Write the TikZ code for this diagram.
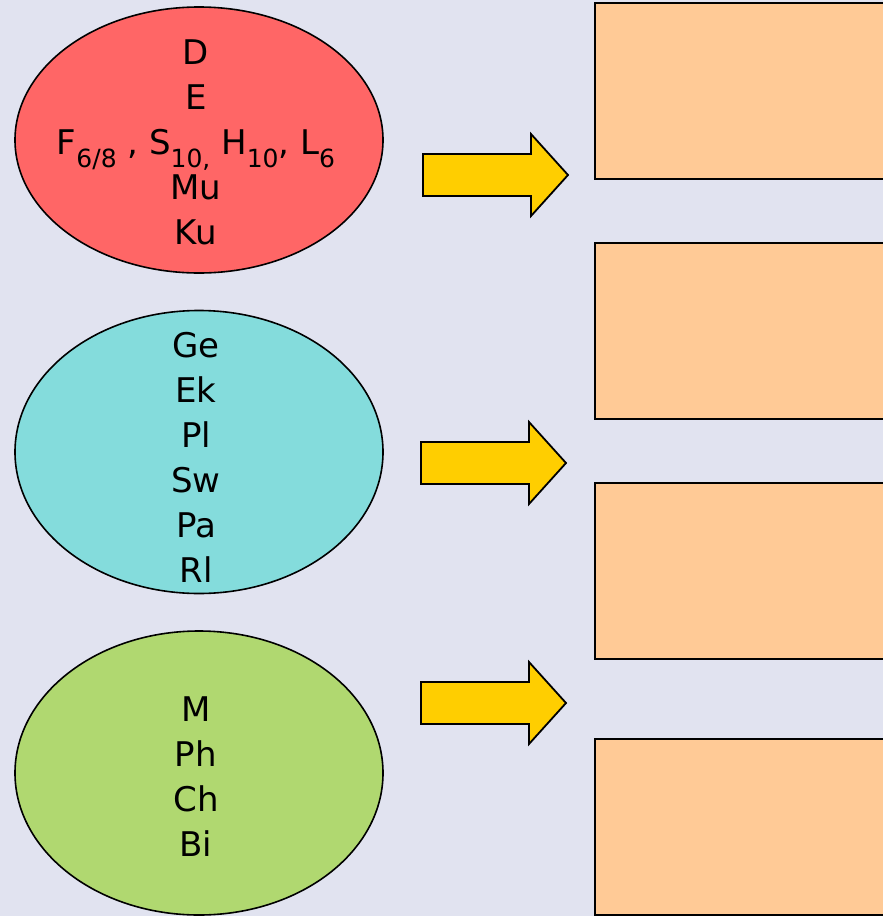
\documentclass[tikz,border=0pt]{standalone}
\usepackage{fontspec}
\setmainfont{DejaVu Sans}
\usetikzlibrary{shapes.geometric}

\definecolor{bgcol}{RGB}{225,227,240}
\definecolor{redfill}{RGB}{255,102,102}
\definecolor{cyanfill}{RGB}{132,220,220}
\definecolor{greenfill}{RGB}{176,216,112}
\definecolor{boxfill}{RGB}{255,202,150}
\definecolor{arrowfill}{RGB}{255,206,0}

\newcommand{\lowsub}[1]{\raisebox{-0.38em}{\fontsize{25}{25}\selectfont #1}}

\tikzset{
  oval/.style={ellipse, draw=black, line width=1.6pt, inner sep=0pt,
               minimum width=368pt},
  ovaltext/.style={align=center, inner sep=0pt,
                   font=\fontsize{34}{45}\selectfont},
  emptybox/.style={rectangle, draw=black, line width=2.2pt, fill=boxfill,
                   minimum width=320pt, minimum height=176pt, inner sep=0pt},
  fatarrow/.style={draw=black, line width=1.8pt, fill=arrowfill, line join=miter}
}

\begin{document}
\begin{tikzpicture}[x=1pt, y=-1pt]
  \fill[bgcol] (0,0) rectangle (883,916);
  \useasboundingbox (0,0) rectangle (883,916);

  % three groups on the left
  \node[oval, fill=redfill, minimum height=266pt] (e1) at (199,140) {};
  \node[ovaltext] (t1) at (196,142)
    {D\\E\\F\lowsub{6/8} , S\lowsub{10,} H\lowsub{10}, L\lowsub{6}\\Mu\\Ku};

  \node[oval, fill=cyanfill, minimum height=283pt] (e2) at (199,452) {};
  \node[ovaltext] (t2) at (196,457) {Ge\\Ek\\Pl\\Sw\\Pa\\Rl};

  \node[oval, fill=greenfill, minimum height=284pt] (e3) at (199,773) {};
  \node[ovaltext] (t3) at (196,777) {M\\Ph\\Ch\\Bi};

  % block arrows
  \coordinate (a1) at (423,175);
  \coordinate (a2) at (421,463);
  \coordinate (a3) at (421,703);
  \foreach \a in {a1,a2,a3}{
    \draw[fatarrow, shift={(\a)}]
      (0,-21) -- (108,-21) -- (108,-41) -- (145,0) -- (108,41) -- (108,21)
      -- (0,21) -- cycle;
  }

  % empty boxes on the right
  \node[emptybox, anchor=north west] (b1) at (594,2) {};
  \node[emptybox, anchor=north west] (b2) at (594,242) {};
  \node[emptybox, anchor=north west] (b3) at (594,482) {};
  \node[emptybox, anchor=north west] (b4) at (594,738) {};
\end{tikzpicture}
\end{document}
